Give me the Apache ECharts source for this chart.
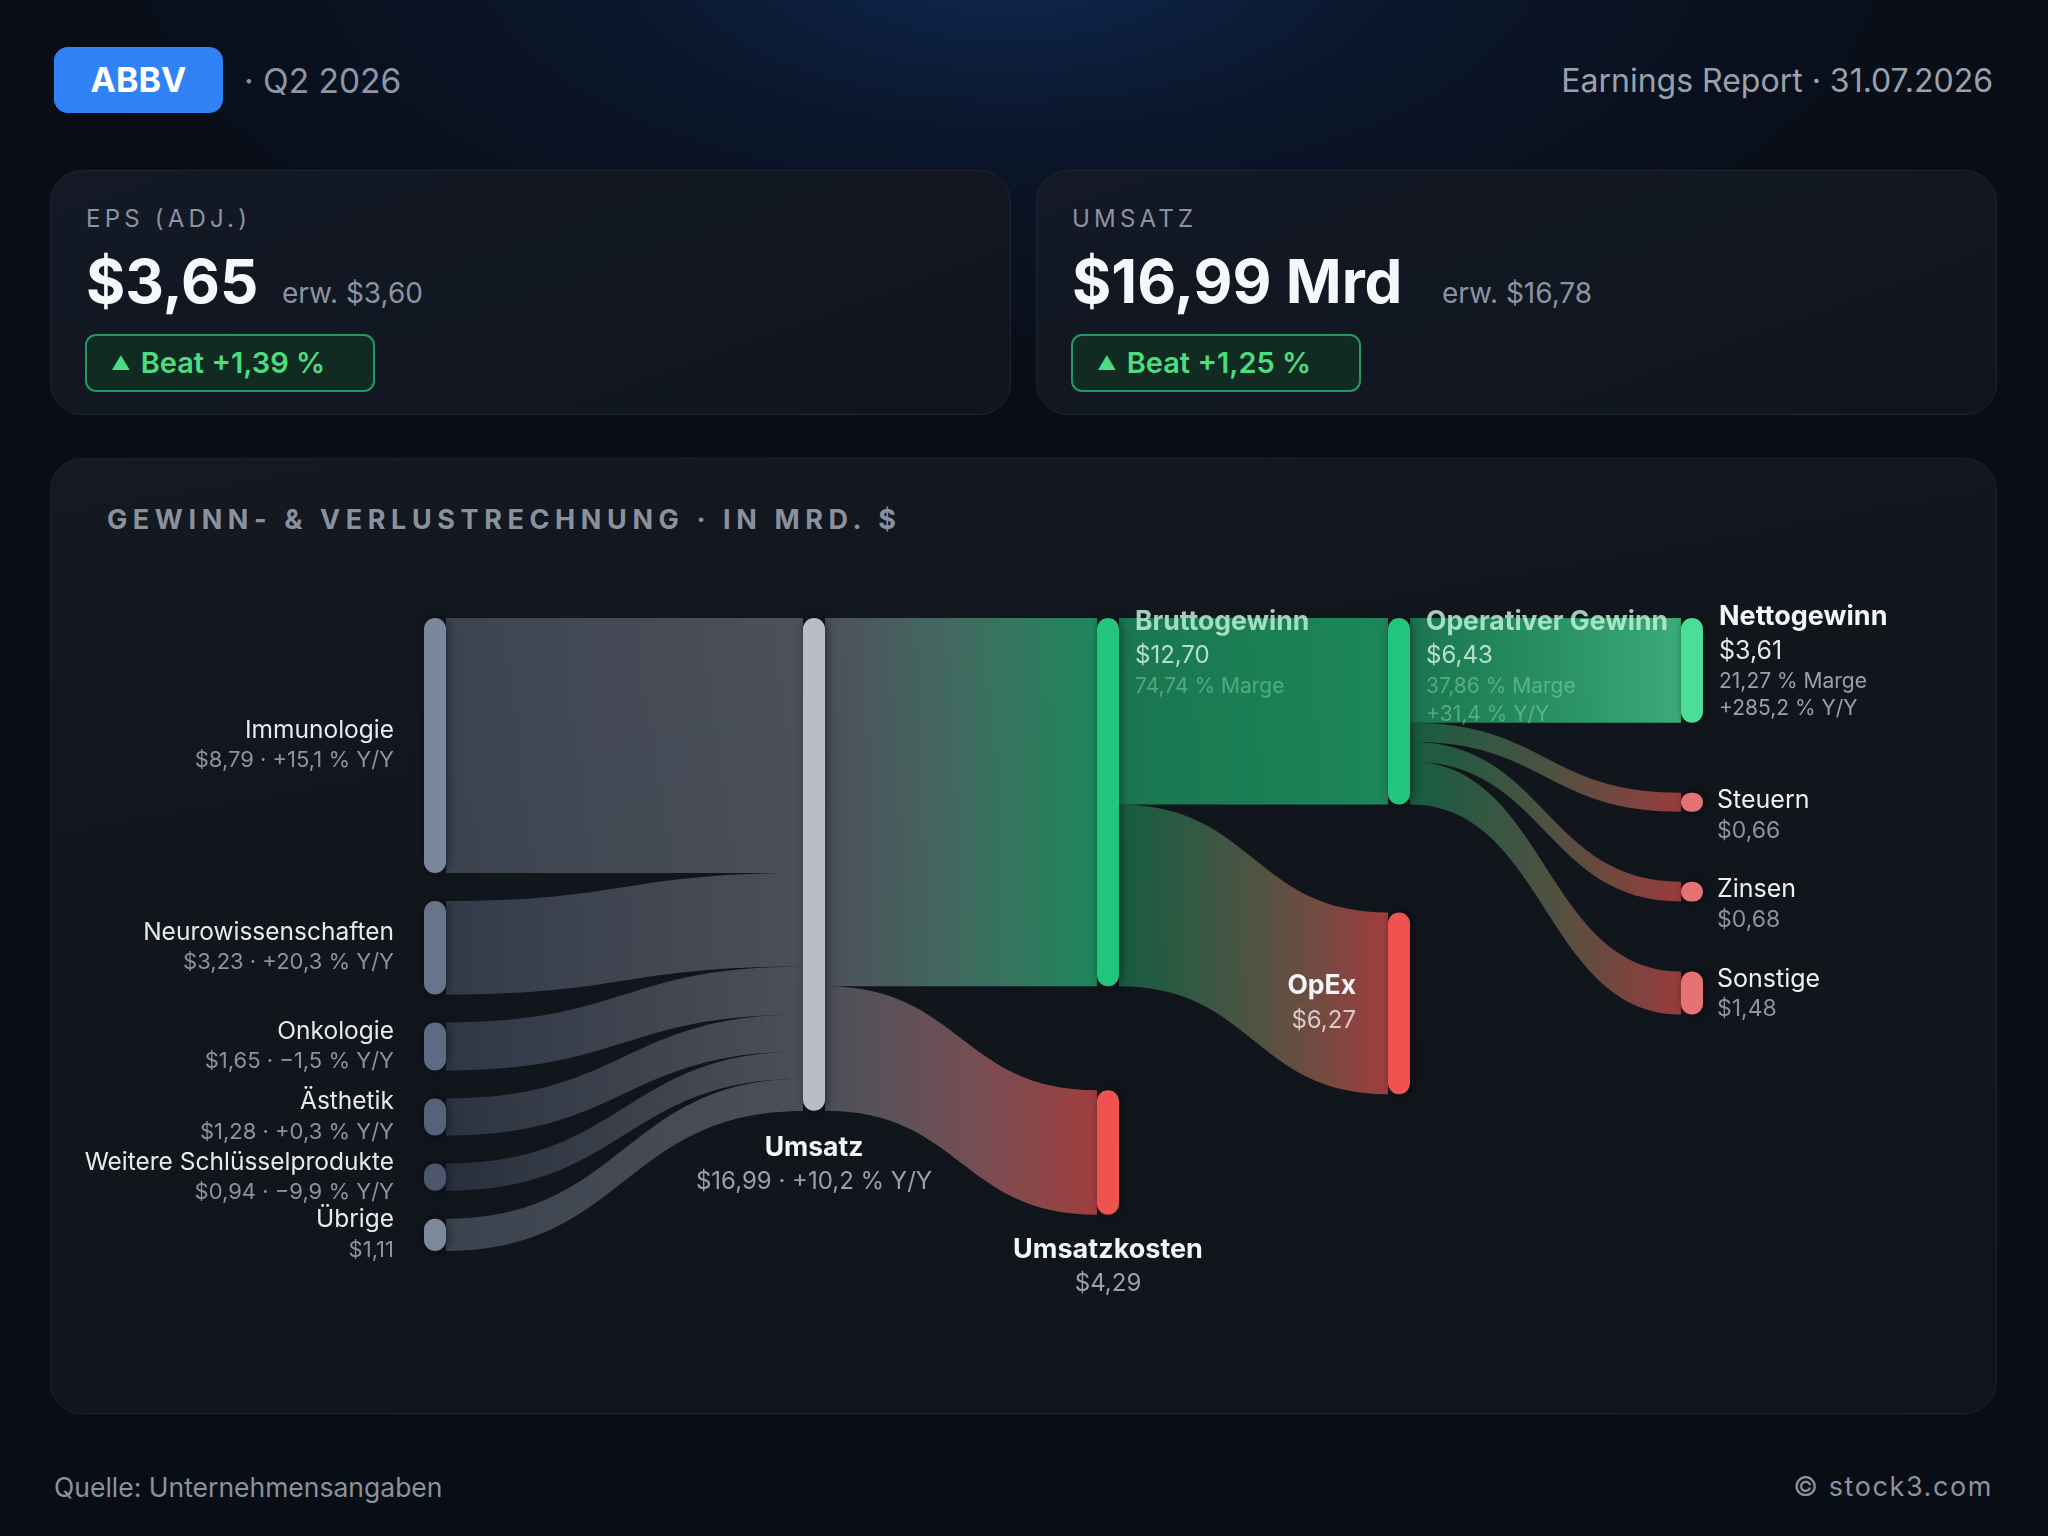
<!DOCTYPE html>
<html>
<head>
<meta charset="utf-8">
<script src="https://cdn.jsdelivr.net/npm/echarts@6/dist/echarts.min.js"></script>
<style>
html,body{margin:0;padding:0;}
body{width:2048px;height:1536px;position:relative;overflow:hidden;font-family:Inter,"Noto Sans",sans-serif;
  background:
   radial-gradient(ellipse 1000px 430px at 1010px -40px, rgba(16,44,92,0.85) 0%, rgba(12,30,62,0.55) 40%, rgba(9,13,22,0) 100%),
   #090d15;}
.abs{position:absolute;}
#tick{left:54px;top:47px;width:169px;height:66px;border-radius:14px;background:#3182f6;color:#fff;font-weight:700;font-size:34px;line-height:66px;text-align:center;}
#period{left:244px;top:60px;font-size:33.5px;line-height:42px;color:#8e96a3;}
#report{right:55px;top:61px;font-size:32px;line-height:40px;color:#9aa1ad;}
.card{position:absolute;top:170px;width:961px;height:245px;box-sizing:border-box;border:1.5px solid #1f2631;border-radius:32px;
  background:linear-gradient(160deg,#131925 0%,#10151d 100%);}
.clabel{position:absolute;left:35px;top:33px;font-size:24px;line-height:30px;letter-spacing:4.2px;color:#8b93a1;}
.cval{position:absolute;left:35px;top:80px;font-size:60px;line-height:60px;font-weight:700;color:#f5f7fb;white-space:nowrap;}
.cexp{position:absolute;top:108px;font-size:28px;line-height:28px;color:#8b93a1;white-space:nowrap;}
.beat{position:absolute;left:34px;top:163px;width:290px;height:58px;box-sizing:border-box;border:2px solid #1f9a60;border-radius:11px;background:#112a22;
  color:#4ade80;font-weight:600;font-size:29px;line-height:54px;padding-left:24px;white-space:nowrap;}
.beat .tri{font-size:19px;display:inline-block;margin-right:10px;vertical-align:3px;}
#panel{left:50px;top:458px;width:1947px;height:956px;box-sizing:border-box;border:1.5px solid #1e242e;border-radius:32px;
  background:linear-gradient(170deg,#141922 0%,#11151c 40%,#10141b 100%);}
#ptitle{left:107px;top:503px;font-size:27px;line-height:34px;font-weight:700;letter-spacing:5.6px;color:#8a919c;white-space:nowrap;}
#chart{position:absolute;left:50px;top:458px;width:1947px;height:956px;}
.foot{position:absolute;top:1471px;font-size:26.5px;line-height:32px;color:#8b929e;}
</style>
</head>
<body>
<div id="tick" class="abs">ABBV</div>
<div id="period" class="abs">· Q2 2026</div>
<div id="report" class="abs">Earnings Report · 31.07.2026</div>

<div class="card" style="left:50px;">
  <div class="clabel">EPS (ADJ.)</div>
  <div class="cval">$3,65</div>
  <div class="cexp" style="left:231px;">erw. $3,60</div>
  <div class="beat"><span class="tri">▲</span>Beat +1,39 %</div>
</div>
<div class="card" style="left:1036px;">
  <div class="clabel">UMSATZ</div>
  <div class="cval">$16,99 Mrd</div>
  <div class="cexp" style="left:405px;">erw. $16,78</div>
  <div class="beat"><span class="tri">▲</span>Beat +1,25 %</div>
</div>

<div id="panel" class="abs"></div>
<div id="ptitle" class="abs">GEWINN- &amp; VERLUSTRECHNUNG · IN MRD. $</div>
<div id="chart"></div>

<div class="foot" style="left:54px;">Quelle: Unternehmensangaben</div>
<div class="foot" style="right:55px;font-size:27px;letter-spacing:1.6px;">© stock3.com</div>

<script>
// ---------- data ----------
const segNames  = ['Immunologie', 'Neurowissenschaften', 'Onkologie', 'Ästhetik', 'Weitere Schlüsselprodukte', 'Übrige'];
const segValues = [8.79, 3.23, 1.65, 1.28, 0.94, 1.11];
const segYoY    = ['+15,1 %', '+20,3 %', '−1,5 %', '+0,3 %', '−9,9 %', null];

const flowNames   = ['Umsatz', 'Bruttogewinn', 'Umsatzkosten', 'Operativer Gewinn', 'OpEx', 'Nettogewinn', 'Steuern', 'Zinsen', 'Sonstige'];
const flowValues  = [16.99, 12.70, 4.29, 6.43, 6.27, 3.61, 0.66, 0.68, 1.48];
const flowParents = [null, 'Umsatz', 'Umsatz', 'Bruttogewinn', 'Bruttogewinn', 'Operativer Gewinn', 'Operativer Gewinn', 'Operativer Gewinn', 'Operativer Gewinn'];
const flowMargin  = [null, '74,74 % Marge', null, '37,86 % Marge', null, '21,27 % Marge', null, null, null];
const flowYoY     = ['+10,2 % Y/Y', null, null, '+31,4 % Y/Y', null, '+285,2 % Y/Y', null, null, null];

// ---------- layout (page px; chart container starts at 50,458) ----------
const layout = {
  originX: 50, originY: 458,
  colX: [424, 803, 1097, 1388, 1681],   // left edge of each node column
  top: 618,
  gaps: [28, 104, 108, 70],             // node gap used in each stage
  ky: 29.0,                             // px per Mrd $
  nodeW: 22
};

// ---------- styles ----------
const segColors = ['#7a879d', '#67748c', '#5d6a84', '#566279', '#4c566d', '#7c889c'];
const flowKind  = ['rev', 'profit', 'cost', 'profit', 'cost', 'net', 'minor', 'minor', 'minor'];
const kindColor = {rev: '#b8bdc9', profit: '#22c57b', cost: '#ef5350', net: '#4ade98', minor: '#e57373'};
const linkEndColor = {rev: ['#b8bdc9', 0.35], profit: ['#22c57b', 0.65], cost: ['#ef5350', 0.65], net: ['#4ade98', 0.75], minor: ['#ef5350', 0.62]};

function rgba(hex, a) {
  const n = parseInt(hex.slice(1), 16);
  return 'rgba(' + (n >> 16) + ',' + ((n >> 8) & 255) + ',' + (n & 255) + ',' + a + ')';
}
function money(v) { return '$' + v.toFixed(2).replace('.', ','); }

const rich = {
  n:  {fontFamily: 'Inter', fontSize: 24.5, color: '#e8eaee', lineHeight: 30},
  v:  {fontFamily: 'Inter', fontSize: 22, color: '#8d939e', lineHeight: 30},
  nb: {fontFamily: 'Inter', fontSize: 26.5, fontWeight: 700, color: '#f3f5f8', lineHeight: 34},
  vb: {fontFamily: 'Inter', fontSize: 24, color: '#9aa0aa', lineHeight: 34},
  gb: {fontFamily: 'Inter', fontSize: 26.5, fontWeight: 700, color: 'rgba(196,244,218,0.82)', lineHeight: 34},
  gv: {fontFamily: 'Inter', fontSize: 24, color: 'rgba(214,246,228,0.82)', lineHeight: 34},
  gm: {fontFamily: 'Inter', fontSize: 21, color: 'rgba(150,225,185,0.45)', lineHeight: 28},
  nt: {fontFamily: 'Inter', fontSize: 27, fontWeight: 700, color: '#f3f5f8', lineHeight: 34},
  nv: {fontFamily: 'Inter', fontSize: 25, color: '#e3e6ea', lineHeight: 34},
  nm: {fontFamily: 'Inter', fontSize: 21, color: '#9aa0aa', lineHeight: 27},
  mn: {fontFamily: 'Inter', fontSize: 25, color: '#eef0f3', lineHeight: 30},
  mv: {fontFamily: 'Inter', fontSize: 23, color: '#8d939e', lineHeight: 30},
  ov: {fontFamily: 'Inter', fontSize: 24, color: '#d9c9c9', lineHeight: 34}
};

const colorOf = {};
segNames.forEach((n, i) => { colorOf[n] = segColors[i]; });
flowNames.forEach((n, i) => { colorOf[n] = kindColor[flowKind[i]]; });

function labelFor(name) {
  const si = segNames.indexOf(name);
  if (si >= 0) {
    const sub = money(segValues[si]) + (segYoY[si] ? ' · ' + segYoY[si] + ' Y/Y' : '');
    return {show: true, position: 'left', distance: 30, align: 'right', formatter: '{n|' + name + '}\n{v|' + sub + '}'};
  }
  const i = flowNames.indexOf(name);
  const kind = flowKind[i];
  if (kind === 'rev') {
    return {show: true, position: 'bottom', distance: 20, align: 'center',
      formatter: '{nb|' + name + '}\n{vb|' + money(flowValues[i]) + ' · ' + flowYoY[i] + '}'};
  }
  if (name === 'Umsatzkosten') {
    return {show: true, position: 'bottom', distance: 18, align: 'center',
      formatter: '{nt|' + name + '}\n{vb|' + money(flowValues[i]) + '}'};
  }
  if (name === 'OpEx') {
    return {show: true, position: 'left', distance: 32, align: 'right',
      formatter: '{nb|' + name + '}\n{ov|' + money(flowValues[i]) + '}'};
  }
  if (kind === 'profit') {
    const lines = ['{gb|' + name + '}', '{gv|' + money(flowValues[i]) + '}', '{gm|' + flowMargin[i] + '}'];
    if (flowYoY[i]) lines.push('{gm|' + flowYoY[i] + '}');
    return {show: true, position: ['100%', 0], offset: [16, -13], align: 'left', verticalAlign: 'top', formatter: lines.join('\n')};
  }
  if (kind === 'net') {
    const lines = ['{nt|' + name + '}', '{nv|' + money(flowValues[i]) + '}', '{nm|' + flowMargin[i] + '}', '{nm|' + flowYoY[i] + '}'];
    return {show: true, position: ['100%', 0], offset: [16, -18], align: 'left', verticalAlign: 'top', formatter: lines.join('\n')};
  }
  return {show: true, position: ['100%', 0], offset: [14, -7], align: 'left', verticalAlign: 'top',
    formatter: '{mn|' + name + '}\n{mv|' + money(flowValues[i]) + '}'};
}

function grad(c0, c1) {
  return {type: 'linear', x: 0, y: 0, x2: 1, y2: 0, colorStops: [{offset: 0, color: c0}, {offset: 1, color: c1}]};
}
function linkColor(src, tgt) {
  const sk = segNames.includes(src) ? 'seg' : flowKind[flowNames.indexOf(src)];
  const tk = flowKind[flowNames.indexOf(tgt)];
  let a0 = 0.35;
  if (sk === 'seg') a0 = 0.4;
  if (sk === 'profit') a0 = (tk === 'profit' || tk === 'net') ? 0.55 : 0.4;
  const end = linkEndColor[tk];
  return grad(rgba(colorOf[src], a0), rgba(end[0], end[1]));
}

// ---------- stages: one sankey per column pair ----------
const hasChildren = name => flowParents.includes(name);
const stageDefs = [{sources: segNames, targets: ['Umsatz'], values: segValues.slice()}];
['Umsatz', 'Bruttogewinn', 'Operativer Gewinn'].forEach(parent => {
  const kids = flowNames.filter((n, i) => flowParents[i] === parent);
  stageDefs.push({sources: [parent], targets: kids, values: kids.map(k => flowValues[flowNames.indexOf(k)])});
});

const series = stageDefs.map((st, s) => {
  const links = st.sources.length > 1
    ? st.sources.map((src, i) => ({source: src, target: st.targets[0], value: st.values[i], lineStyle: {color: linkColor(src, st.targets[0])}}))
    : st.targets.map((tgt, i) => ({source: st.sources[0], target: tgt, value: st.values[i], lineStyle: {color: linkColor(st.sources[0], tgt)}}));
  const total = st.values.reduce((a, b) => a + b, 0);
  const nMax = Math.max(st.sources.length, st.targets.length);
  const gap = layout.gaps[s];
  const nodes = [];
  st.sources.forEach(name => {
    nodes.push({name, itemStyle: {color: colorOf[name]}, label: labelFor(name)});
  });
  st.targets.forEach(name => {
    const own = !hasChildren(name);
    nodes.push(own
      ? {name, itemStyle: {color: colorOf[name]}, label: labelFor(name)}
      : {name, itemStyle: {color: 'rgba(0,0,0,0)', shadowBlur: 0}, label: {show: false}});
  });
  return {
    type: 'sankey',
    left: layout.colX[s] - layout.originX,
    top: layout.top - layout.originY,
    width: layout.colX[s + 1] - layout.colX[s] + layout.nodeW,
    height: layout.ky * total + (nMax - 1) * gap + 0.01,
    nodeWidth: layout.nodeW,
    nodeGap: gap,
    nodeAlign: 'left',
    layoutIterations: 0,
    draggable: false,
    silent: true,
    emphasis: {disabled: true},
    itemStyle: {borderRadius: 11, borderWidth: 0, shadowBlur: 10, shadowColor: 'rgba(0,0,0,0.45)', shadowOffsetX: 2},
    lineStyle: {curveness: 0.5, opacity: 1},
    label: {show: true, fontFamily: 'Inter', rich},
    data: nodes,
    links
  };
});

const chart = echarts.init(document.getElementById('chart'), null, {renderer: 'canvas'});
chart.setOption({animation: false, backgroundColor: 'transparent', series});
</script>
</body>
</html>
